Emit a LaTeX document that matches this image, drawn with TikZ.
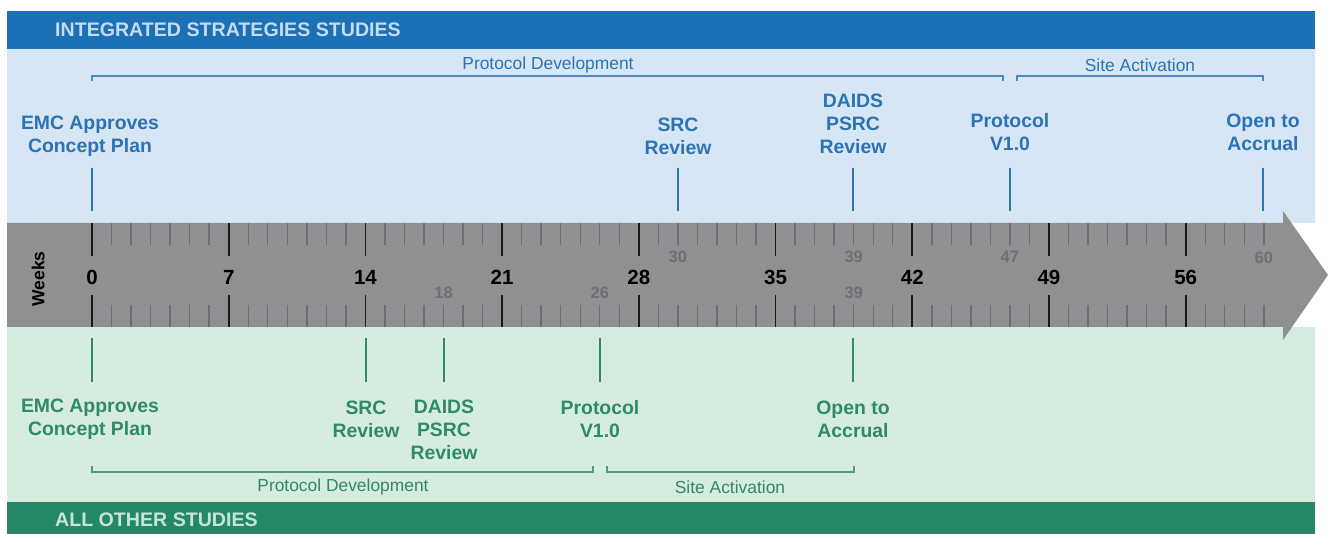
\documentclass[tikz,border=0pt]{standalone}
\usepackage{fontspec}
\setmainfont{Liberation Sans}
\definecolor{bandblue}{HTML}{1C70B6}
\definecolor{bgblue}{HTML}{D6E6F5}
\definecolor{txtblue}{HTML}{2B73B4}
\definecolor{bandtxtblue}{HTML}{C4DBF0}
\definecolor{bargray}{HTML}{8F9092}
\definecolor{minorgray}{HTML}{6C6D70}
\definecolor{numgray}{HTML}{6E6F72}
\definecolor{bggreen}{HTML}{D6ECDF}
\definecolor{txtgreen}{HTML}{2E8A68}
\definecolor{bandgreen}{HTML}{248868}
\definecolor{bandtxtgreen}{HTML}{C5E6D5}
\tikzset{
  milestone/.style={font=\fontsize{19.4}{23}\selectfont\bfseries, align=center, inner sep=0pt},
  phase/.style={font=\fontsize{17.4}{20}\selectfont, inner sep=0pt},
  bandtitle/.style={font=\fontsize{19.6}{22}\selectfont\bfseries, anchor=west, inner sep=0pt},
  majornum/.style={font=\fontsize{20.5}{22}\selectfont\bfseries, text=black, inner sep=0pt},
  minornum/.style={font=\fontsize{16.5}{18}\selectfont\bfseries, text=numgray, inner sep=0pt},
  majortick/.style={draw=black!90, line width=1.8pt},
  minortick/.style={draw=minorgray, line width=1.4pt},
  bluelink/.style={draw=txtblue, line width=1.5pt},
  greenlink/.style={draw=txtgreen, line width=1.5pt},
  bluebracket/.style={draw=txtblue!85, line width=1.2pt},
  greenbracket/.style={draw=txtgreen!85, line width=1.2pt},
}
\begin{document}
\begin{tikzpicture}[x=1pt,y=-1pt]
\useasboundingbox (0,0) rectangle (1328,534);
% backgrounds
\fill[white] (0,0) rectangle (1328,534);
\fill[bgblue] (7,48) rectangle (1315,223);
\fill[bggreen] (7,327) rectangle (1315,502);
\fill[bandblue] (7,11) rectangle (1315,49);
\fill[bandgreen] (7,502) rectangle (1315,534);
\node[bandtitle, text=bandtxtblue] (toptitle) at (55,30) {INTEGRATED STRATEGIES STUDIES};
\node[bandtitle, text=bandtxtgreen] (bottitle) at (55,520) {ALL OTHER STUDIES};
% arrow bar
\fill[bargray] (7,223) -- (1283,223) -- (1283,211) -- (1328,275) -- (1283,340) -- (1283,327) -- (7,327) -- cycle;
% ticks
\foreach \w in {0,...,60}{
  \pgfmathsetmacro{\xx}{92+\w*19.53}
  \pgfmathtruncatemacro{\r}{mod(\w,7)}
  \ifnum\r=0
    \draw[majortick] (\xx,223) -- (\xx,256);
    \draw[majortick] (\xx,295) -- (\xx,327);
  \else
    \draw[minortick] (\xx,223) -- (\xx,245);
    \draw[minortick] (\xx,305) -- (\xx,327);
  \fi
}
\foreach \w in {0,7,...,56}{
  \node[majornum] (n\w) at (92+\w*19.53,277) {\w};
}
\node[font=\fontsize{17.5}{19}\selectfont\bfseries, rotate=90, inner sep=0pt] (weeks) at (38,279) {Weeks};
\node[minornum] (g30) at (92+30*19.53,257) {30};
\node[minornum] (g39a) at (92+39*19.53,257) {39};
\node[minornum] (g47) at (92+47*19.53,257) {47};
\node[minornum] (g60) at (92+60*19.53,258) {60};
\node[minornum] (g18) at (92+18*19.53,293) {18};
\node[minornum] (g26) at (92+26*19.53,293) {26};
\node[minornum] (g39b) at (92+39*19.53,293) {39};
% top milestones
\node[milestone, text=txtblue] (tEMC) at (90,136) {EMC Approves\\Concept Plan};
\node[milestone, text=txtblue] (tSRC) at (678,136) {SRC\\Review};
\node[milestone, text=txtblue] (tDAIDS) at (853,124) {DAIDS\\PSRC\\Review};
\node[milestone, text=txtblue] (tProt) at (1010,132) {Protocol\\V1.0};
\node[milestone, text=txtblue] (tOpen) at (1263,132) {Open to\\Accrual};
\foreach \n/\x in {EMC/92,SRC/678,DAIDS/853,Prot/1010,Open/1263}{
  \coordinate (ta\n) at (\x,168);
  \coordinate (tb\n) at (\x,211);
  \draw[bluelink] (ta\n) -- (tb\n);
}
% top brackets
\coordinate (pdA) at (92,81); \coordinate (pdB) at (1003,81);
\coordinate (saA) at (1017,81); \coordinate (saB) at (1263,81);
\draw[bluebracket] (pdA) -- ++(0,-5) -| (pdB);
\draw[bluebracket] (saA) -- ++(0,-5) -| (saB);
\node[phase, text=txtblue] (tpd) at (548,65) {Protocol Development};
\node[phase, text=txtblue] (tsa) at (1140,65) {Site Activation};
% bottom milestones
\node[milestone, text=txtgreen] (bEMC) at (90,419) {EMC Approves\\Concept Plan};
\node[milestone, text=txtgreen] (bSRC) at (366,419) {SRC\\Review};
\node[milestone, text=txtgreen] (bDAIDS) at (444,430) {DAIDS\\PSRC\\Review};
\node[milestone, text=txtgreen] (bProt) at (600,419) {Protocol\\V1.0};
\node[milestone, text=txtgreen] (bOpen) at (853,419) {Open to\\Accrual};
\foreach \n/\x in {EMC/92,SRC/366,DAIDS/444,Prot/600,Open/853}{
  \coordinate (ba\n) at (\x,338);
  \coordinate (bb\n) at (\x,382);
  \draw[greenlink] (ba\n) -- (bb\n);
}
% bottom brackets
\coordinate (bpdA) at (92,466); \coordinate (bpdB) at (593,466);
\coordinate (bsaA) at (607,466); \coordinate (bsaB) at (854,466);
\draw[greenbracket] (bpdA) -- ++(0,6) -| (bpdB);
\draw[greenbracket] (bsaA) -- ++(0,6) -| (bsaB);
\node[phase, text=txtgreen] (bpd) at (343,487) {Protocol Development};
\node[phase, text=txtgreen] (bsa) at (730,487) {Site Activation};
\end{tikzpicture}
\end{document}
